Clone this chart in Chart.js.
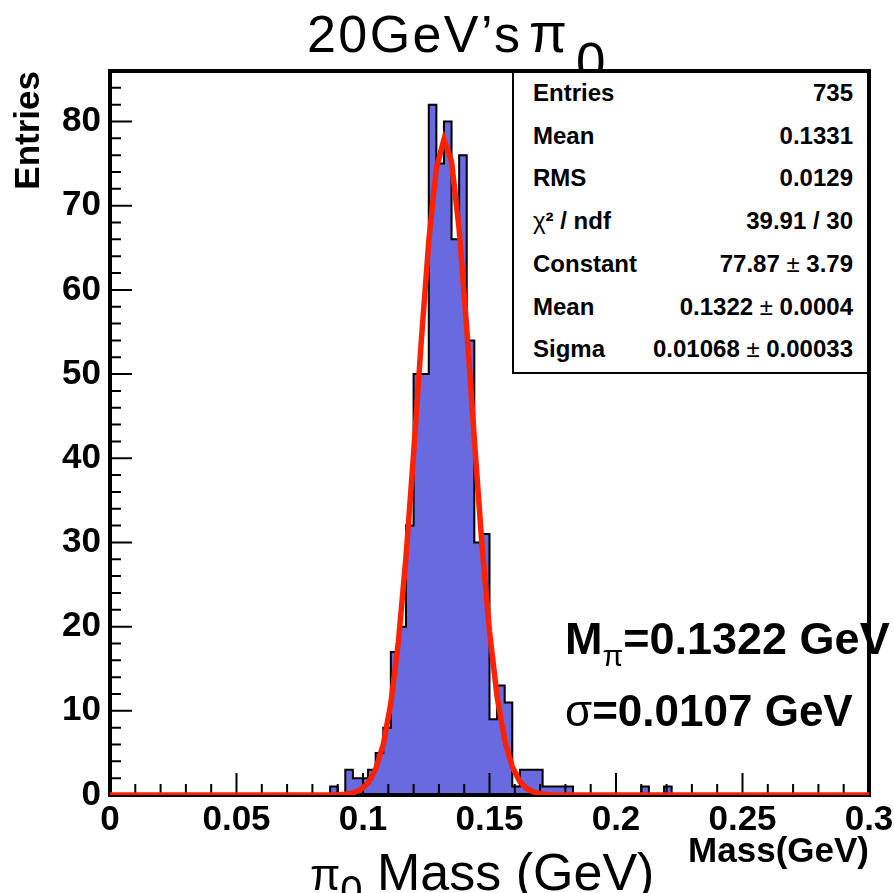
<!DOCTYPE html>
<html><head><meta charset="utf-8">
<script src="https://cdn.jsdelivr.net/npm/chart.js@4.4.1/dist/chart.umd.min.js"></script>
<style>
html,body{margin:0;padding:0;background:#fff;}
#wrap{position:relative;width:894px;height:893px;overflow:hidden;font-family:"Liberation Sans",Arial,sans-serif;color:#000;}
#cbox{position:absolute;left:0;top:0;width:894px;height:893px;}
.t{position:absolute;white-space:nowrap;line-height:1;}
#stats{position:absolute;left:512px;top:73px;width:355px;height:301px;box-sizing:border-box;background:#fff;border-left:2px solid #000;border-bottom:2px solid #000;font-weight:bold;font-size:24px;}
.row{position:absolute;left:19px;right:14px;height:30px;display:flex;justify-content:space-between;align-items:center;}
.pm{font-weight:normal;}
</style>
</head><body>
<div id="wrap">
  <div id="cbox"><canvas id="c"></canvas></div>
  <div class="t" style="left:307px;top:8px;font-size:52px;letter-spacing:2.4px;">20GeV’s</div>
  <div class="t" style="left:529px;top:6px;font-size:55px;">π</div>
  <div class="t" style="left:576px;top:35px;font-size:53px;">0</div>
  <div id="stats"></div>
  <div class="t" style="left:565px;top:616px;font-size:45px;font-weight:bold;">M<span style="font-size:30px;position:relative;top:12px;font-weight:normal;">π</span>=0.1322 GeV</div>
  <div class="t" style="left:565px;top:689px;font-size:44px;font-weight:bold;"><span style="font-weight:normal;">σ</span>=0.0107 GeV</div>
  <div class="t" style="left:310px;top:846px;font-size:52px;"><span style="font-size:44px;">π</span><span style="font-size:40px;position:relative;top:14px;">0</span> Mass (GeV)</div>
</div>
<script>
// ---- data ----
const binLow = 0.0;
const binWidth = 0.003;
const counts = [
  0,0,0,0,0,0,0,0,0,0,
  0,0,0,0,0,0,0,0,0,0,
  0,0,0,0,0,0,0,0,0,1,
  0,3,2,2,3,5,8,17,20,32,
  50,50,82,75,80,66,76,54,30,31,
  9,13,11,1,3,3,3,1,1,1,
  1,0,0,0,0,0,0,0,0,0,
  1,0,0,1,0,0,0,0,0,0,
  0,0,0,0,0,0,0,0,0,0,
  0,0,0,0,0,0,0,0,0,0
];
const fitX = [0, 0.084, 0.087, 0.090, 0.093, 0.096, 0.099, 0.102, 0.105, 0.108, 0.111, 0.114, 0.117, 0.120, 0.123, 0.126, 0.129, 0.132, 0.135, 0.138, 0.141, 0.144, 0.147, 0.150, 0.153, 0.156, 0.159, 0.162, 0.165, 0.168, 0.171, 0.174, 0.177, 0.180, 0.3];
const fitY = [0, 0.0, 0.01, 0.03, 0.09, 0.25, 0.62, 1.43, 3.04, 5.98, 10.86, 18.23, 28.28, 40.57, 53.74, 65.79, 74.45, 77.86, 75.24, 67.20, 55.45, 42.29, 29.81, 19.42, 11.69, 6.50, 3.34, 1.59, 0.70, 0.28, 0.11, 0.04, 0.01, 0.0, 0];
const xTickValues = [0, 0.05, 0.1, 0.15, 0.2, 0.25, 0.3];
const xTickLabels = ['0', '0.05', '0.1', '0.15', '0.2', '0.25', '0.3'];
const yTickValues = [0, 10, 20, 30, 40, 50, 60, 70, 80];
const yTickLabels = ['0', '10', '20', '30', '40', '50', '60', '70', '80'];
const statLabels = ['Entries', 'Mean', 'RMS', 'χ² / ndf', 'Constant', 'Mean', 'Sigma'];
const statValues = ['735', '0.1331', '0.0129', '39.91 / 30', '77.87 ± 3.79', '0.1322 ± 0.0004', '0.01068 ± 0.00033'];

// ---- stats box ----
const stats = document.getElementById('stats');
statLabels.forEach((lab, i) => {
  const r = document.createElement('div');
  r.className = 'row';
  r.style.top = (5 + i * 42.7) + 'px';
  const a = document.createElement('span');
  if (lab.startsWith('χ')) { a.innerHTML = '<span style="font-weight:normal">χ</span>' + lab.slice(1); } else { a.textContent = lab; }
  const b = document.createElement('span');
  b.innerHTML = statValues[i].replace('±', '<span class="pm">±</span>');
  r.appendChild(a); r.appendChild(b);
  stats.appendChild(r);
});

// ---- histogram points (bin edges) ----
const histPts = counts.map((c, i) => ({x: binLow + i * binWidth, y: c}));
histPts.push({x: binLow + counts.length * binWidth, y: counts[counts.length - 1]});
const fitPts = fitX.map((x, i) => ({x: x, y: fitY[i]}));

const frameTicks = {
  id: 'frameTicks',
  afterDatasetDraw(chart, args) {
    if (args.index !== 0) return;
    const {ctx, chartArea: a, scales: {x, y}} = chart;
    ctx.save();
    ctx.strokeStyle = '#000';
    ctx.lineWidth = 2;
    ctx.beginPath();
    for (let k = 0; k <= 30; k++) {
      const px = x.getPixelForValue(k * 0.01);
      const len = (k % 5 === 0) ? 22 : 11;
      ctx.moveTo(px, a.bottom); ctx.lineTo(px, a.bottom - len);
    }
    for (let k = 0; k <= 42; k++) {
      const py = y.getPixelForValue(k * 2);
      const len = (k % 5 === 0) ? 22 : 11;
      ctx.moveTo(a.left, py); ctx.lineTo(a.left + len, py);
    }
    ctx.stroke();
    ctx.lineWidth = 4;
    ctx.strokeRect(a.left, a.top, a.right - a.left, a.bottom - a.top);
    ctx.restore();
  }
};

const tickFont = {family: 'Liberation Sans', weight: 'bold', size: 35};
new Chart(document.getElementById('c'), {
  type: 'line',
  data: {
    datasets: [
      {
        label: 'hist', data: histPts, stepped: 'before', order: 2,
        borderColor: '#000', borderWidth: 2, backgroundColor: '#6a6ae0',
        fill: 'origin', pointRadius: 0, tension: 0
      },
      {
        label: 'fit', data: fitPts, order: 1,
        borderColor: '#ff2200', borderWidth: 5.5, fill: false, pointRadius: 0, tension: 0
      }
    ]
  },
  options: {
    responsive: true, maintainAspectRatio: false, animation: false,
    layout: {padding: {left: 0, top: 71, right: 25, bottom: 0}},
    plugins: {legend: {display: false}, tooltip: {enabled: false}},
    scales: {
      x: {
        type: 'linear', min: 0, max: 0.3,
        afterBuildTicks: s => { s.ticks = xTickValues.map(v => ({value: v})); },
        afterFit: s => { s.height = 98; s.paddingLeft = 0; s.paddingRight = 0; },
        ticks: {font: tickFont, color: '#000', padding: 4, maxRotation: 0, autoSkip: false,
          callback: (v, i) => xTickLabels[i]},
        grid: {display: false, drawTicks: false}, border: {display: false},
        title: {display: true, text: 'Mass(GeV)', align: 'end', color: '#000',
          font: {family: 'Liberation Sans', weight: 'bold', size: 35}, padding: {top: 0, bottom: 20}}
      },
      y: {
        type: 'linear', min: 0, max: 86,
        afterBuildTicks: s => { s.ticks = yTickValues.map(v => ({value: v})); },
        afterFit: s => { s.width = 110; },
        ticks: {font: tickFont, color: '#000', padding: 9, callback: (v, i) => yTickLabels[i]},
        grid: {display: false, drawTicks: false}, border: {display: false},
        title: {display: true, text: 'Entries', align: 'end', color: '#000',
          font: {family: 'Liberation Sans', weight: 'bold', size: 35}, padding: {top: 8, bottom: 0}}
      }
    }
  },
  plugins: [frameTicks]
});
</script>
</body></html>
